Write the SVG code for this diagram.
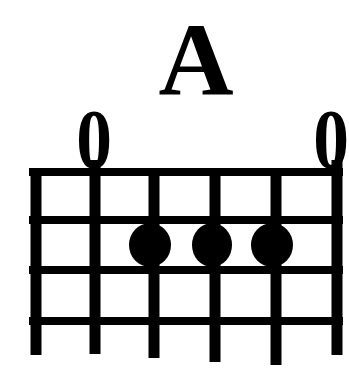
<svg xmlns="http://www.w3.org/2000/svg" width="349" height="372" viewBox="0 0 349 372">
<style>
.str{stroke:#000;stroke-width:11;stroke-linecap:butt}
.fret{stroke:#000;stroke-width:8}
.dot{fill:#000}
.lbl{font-family:"Liberation Serif","Times New Roman",serif;font-weight:bold;fill:#000}
</style>
<rect width="349" height="372" fill="#fff"/>
<g id="title"><text class="lbl" x="196" y="95" font-size="104" text-anchor="middle">A</text></g>
<g id="open-markers">
<text class="lbl" font-size="84" text-anchor="middle" transform="translate(94 168) scale(0.85 1)">0</text>
<text class="lbl" font-size="84" text-anchor="middle" transform="translate(331 168) scale(0.85 1)">0</text>
</g>
<g id="frets">
<line class="fret" x1="29" y1="172" x2="343" y2="172" stroke-width="9"/>
<line class="fret" x1="29" y1="220" x2="343" y2="220"/>
<line class="fret" x1="29" y1="270" x2="343" y2="270"/>
<line class="fret" x1="29" y1="321" x2="343" y2="321"/>
</g>
<g id="strings">
<line class="str" x1="36" y1="168" x2="36" y2="355"/>
<line class="str" x1="95" y1="160" x2="95" y2="354"/>
<line class="str" x1="154" y1="168" x2="154" y2="358"/>
<line class="str" x1="215" y1="168" x2="215" y2="362"/>
<line class="str" x1="276" y1="168" x2="276" y2="365"/>
<line class="str" x1="337" y1="160" x2="337" y2="355"/>
</g>
<g id="dots">
<ellipse class="dot" cx="150" cy="245" rx="21" ry="22"/>
<ellipse class="dot" cx="212" cy="245" rx="20" ry="22"/>
<ellipse class="dot" cx="272" cy="245" rx="21" ry="22"/>
</g>
</svg>
